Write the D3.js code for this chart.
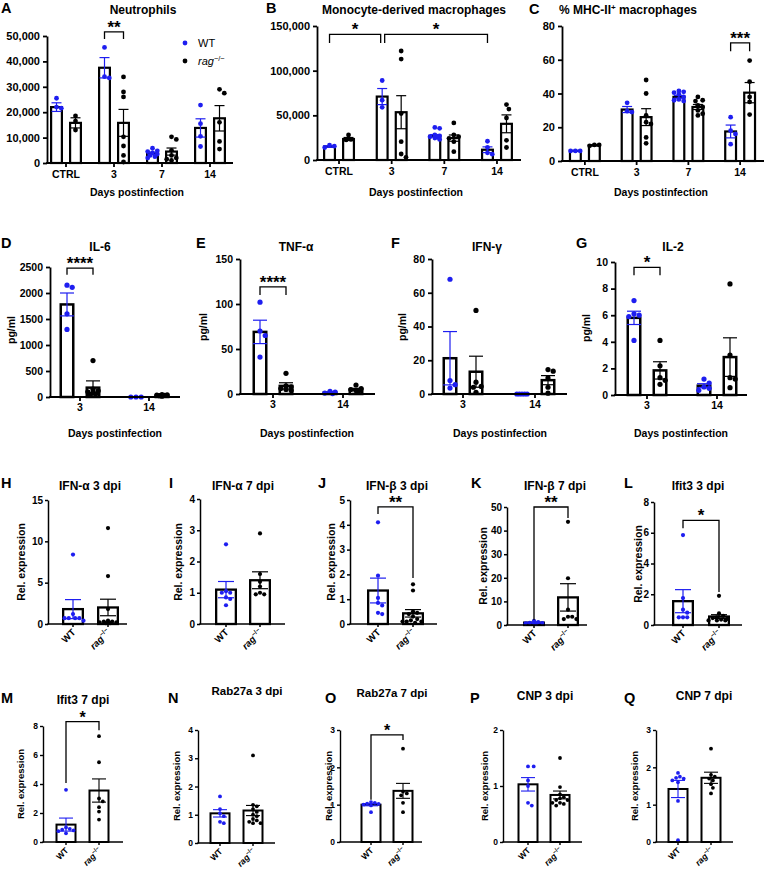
<!DOCTYPE html>
<html><head><meta charset="utf-8">
<script src="https://cdn.jsdelivr.net/npm/d3@7"></script>
<style>body{margin:0;background:#fff} svg{display:block}</style>
</head><body><svg id="c" width="765" height="869"></svg>
<script>
const SERIES = ["WT","rag"];
// ---------- A: Neutrophils ----------
const A_groups = ["CTRL","3","7","14"];
const A_ticks = [0,10000,20000,30000,40000,50000];
const A_wtPts = [[25500,22000,21600],[45500,34000,33500],[5800,4800,4500,4000,3500,3000,2500,2000],[22800,15500,10500,6500]];
const A_ragPts = [[18500,16500,13000],[33900,28000,26000,10300,6700,3000,400],[10300,9300,5000,3000,2000,1500,1000],[29000,27500,16000,8500,5500]];
const A_wtMean = [22000,37500,3800,13800];
const A_wtSem = [1700,4000,450,3600];
const A_ragMean = [15800,15800,4500,17600];
const A_ragSem = [2000,5300,1400,5000];
// ---------- B: Monocyte-derived macrophages ----------
const B_groups = ["CTRL","3","7","14"];
const B_ticks = [0,50000,100000,150000];
const B_wtPts = [[16500,15500,14000],[89000,67000,59000],[36500,35500,28000,27000,26000,25500,24500,23000],[21000,14000,8000,6500]];
const B_ragPts = [[28000,23000,22500],[122000,113000,52000,20500,6700,3000],[41500,28000,26000,24300,20500,9300],[62000,57000,47000,22000,14000]];
const B_wtMean = [15000,71000,27000,11500];
const B_wtSem = [800,9000,1500,3200];
const B_ragMean = [23500,53500,24500,40500];
const B_ragSem = [1700,18500,3500,10000];
// ---------- C: % MHC-II+ macrophages ----------
const C_groups = ["CTRL","3","7","14"];
const C_ticks = [0,20,40,60,80];
const C_wtPts = [[6,6,6],[34.5,29.5,29],[41.5,41,40.5,39.5,38,36.5,36,35.5],[26,18,16,10]];
const C_ragPts = [[9.5,9.5,9],[48,40,27,23,22,14,10.5],[38,36,35.5,33,32,30,28,27],[59.5,47,38,35,27.5]];
const C_wtMean = [6,30.5,38,17.5];
const C_wtSem = [0.1,1.8,0.8,3.8];
const C_ragMean = [9.3,26,32,40.5];
const C_ragSem = [0.3,5,1.5,6];
// ---------- D: IL-6 ----------
const D_groups = ["3","14"];
const D_ticks = [0,500,1000,1500,2000,2500];
const D_wtPts = [[2150,2110,1600,1300],[0,0,0]];
const D_ragPts = [[700,150,120,100,80,60,50],[45,40,35,30,25,15]];
const D_wtMean = [1780,0];
const D_wtSem = [220,0];
const D_ragMean = [180,30];
const D_ragSem = [130,5];
// ---------- E: TNF-α ----------
const E_groups = ["3","14"];
const E_ticks = [0,50,100,150];
const E_wtPts = [[102,70,65,41],[3,2,1,0.5]];
const E_ragPts = [[23,9,8,6,5,4],[10,6,5,4,3]];
const E_wtMean = [69,1.5];
const E_wtSem = [13,0.6];
const E_ragMean = [9,5];
const E_ragSem = [3.5,1.3];
// ---------- F: IFN-γ ----------
const F_groups = ["3","14"];
const F_ticks = [0,20,40,60,80];
const F_wtPts = [[68,8,5.5,3.5],[0,0,0,0,0]];
const F_ragPts = [[49.5,7,4.5,4,1],[14.5,13.5,9.5,4,0.5]];
const F_wtMean = [21.2,0];
const F_wtSem = [15.8,0];
const F_ragMean = [13.2,8.2];
const F_ragSem = [9.2,2.7];
// ---------- G: IL-2 ----------
const G_groups = ["3","14"];
const G_ticks = [0,2,4,6,8,10];
const G_wtPts = [[7.1,6.1,6.0,5.9,4.1],[1.2,0.9,0.6,0.5,0.35]];
const G_ragPts = [[4.1,2.2,1.3,1.1,0.8],[8.35,3.0,1.3,1.2,0.55]];
const G_wtMean = [5.8,0.7];
const G_wtSem = [0.5,0.15];
const G_ragMean = [1.85,2.85];
const G_ragSem = [0.65,1.45];
// ---------- H–Q: relative expression (WT vs rag-/-) ----------
const H_wt = [8.4,1.2,0.7,0.7,0.7,0.7,0.4];
const H_rag = [11.6,5.8,1.8,0.4,0.3,0.3,0.2,0.2,0.1,0.1,0.1];
const H_mean = [1.8,2.0], H_sem = [1.15,1.0], H_ticks = [0,5,10,15];
const I_wt = [2.55,1.05,1.0,1.0,0.85,0.8,0.6];
const I_rag = [2.9,1.6,1.35,1.2,1.0,0.95,0.95];
const I_mean = [1.1,1.4], I_sem = [0.26,0.27], I_ticks = [0,1,2,3,4];
const J_wt = [4.1,1.95,1.05,0.85,0.75,0.45,0.4];
const J_rag = [1.6,1.35,0.5,0.45,0.4,0.3,0.2,0.15,0.1,0.1,0.1,0.05];
const J_mean = [1.35,0.43], J_sem = [0.5,0.15], J_ticks = [0,1,2,3,4,5];
const K_wt = [1.8,1.2,0.9,0.8,0.7,0.7,0.6];
const K_rag = [43.7,19.8,6.5,3.5,3.5,2.5,2.5];
const K_mean = [1.0,11.7], K_sem = [0.15,5.8], K_ticks = [0,10,20,30,40,50];
const L_wt = [5.85,1.75,1.0,0.8,0.5,0.5,0.5];
const L_rag = [1.9,0.75,0.6,0.5,0.45,0.4,0.35,0.3,0.3,0.3];
const L_mean = [1.55,0.55], L_sem = [0.75,0.12], L_ticks = [0,2,4,6,8];
const M_wt = [3.6,1.0,0.9,0.85,0.8,0.75,0.6];
const M_rag = [7.3,5.5,3.0,2.8,2.4,2.1,1.55];
const M_mean = [1.2,3.55], M_sem = [0.45,0.8], M_ticks = [0,2,4,6,8];
const N_wt = [1.65,1.2,1.05,0.95,0.75,0.7];
const N_rag = [3.1,1.35,1.3,1.2,1.1,1.0,0.95,0.85,0.8,0.75,0.7,0.7];
const N_mean = [1.05,1.15], N_sem = [0.13,0.18], N_ticks = [0,1,2,3,4];
const O_wt = [1.07,1.05,1.03,1.02,1.0,0.98,0.8];
const O_rag = [2.5,1.35,1.3,1.25,1.05,0.8];
const O_mean = [1.0,1.37], O_sem = [0.03,0.2], O_ticks = [0,1,2,3];
const P_wt = [1.35,1.35,1.1,1.0,0.7,0.65];
const P_rag = [1.5,0.98,0.85,0.8,0.78,0.75,0.75,0.7,0.7,0.68,0.65];
const P_mean = [1.03,0.84], P_sem = [0.12,0.07], P_ticks = [0,1,2];
const Q_wt = [1.85,1.75,1.72,1.7,1.65,1.6,1.1,0.05];
const Q_rag = [2.5,1.8,1.75,1.7,1.65,1.55,1.45,1.3];
const Q_mean = [1.42,1.72], Q_sem = [0.23,0.15], Q_ticks = [0,1,2,3];

// ---------------- drawing ----------------
const FONT = "'Liberation Sans', Arial, Helvetica, sans-serif";
const BLUE = "#1e1ef0";
const COLOR = {WT: BLUE, rag: "#000"};
const svg = d3.select("#c").style("font-family", FONT);
svg.append("rect").attr("width",765).attr("height",869).attr("fill","#fff");

function ragText(sel, fs) {
  sel.append("tspan").attr("font-style","italic").text("rag");
  sel.append("tspan").attr("font-size", fs*0.68).attr("dy", -fs*0.4).text("−/−");
}
// deterministic scatter spreading (no randomness): place each point at the
// candidate offset within the bar that best avoids earlier points
function beeswarm(vals, y, cx, r, maxHalf) {
  const placed = [], out = new Array(vals.length);
  const order = vals.map((v,i)=>i).sort((a,b)=>vals[b]-vals[a]);
  const s = r, minD = 2*r;
  const cands = [0];
  for (let k = 1; k * s <= maxHalf; k++) { cands.push(k*s, -k*s); }
  order.forEach(i => {
    const py = y(vals[i]);
    let best = cx, bestD = -1;
    for (const off of cands) {
      const cand = cx + off;
      const d = placed.length ? Math.min(...placed.map(p => Math.hypot(p[0]-cand, p[1]-py))) : Infinity;
      if (d >= minD) { best = cand; bestD = d; break; }
      if (d > bestD + 0.5) { bestD = d; best = cand; }
    }
    placed.push([best, py]); out[i] = [best, py];
  });
  return out;
}

function drawPanel(c) {
  const g = svg.append("g");
  const y = d3.scaleLinear().domain([0, c.ymax]).range([c.yBot, c.yTop]);
  const groups = c.groups || ["all"];
  let xg, xs, cx;
  if (c.groups) {
    xg = d3.scaleBand().domain(groups).range(c.xr);
    xs = d3.scaleBand().domain(SERIES).range([-2*c.sub, 2*c.sub]);
    cx = (gk, s) => xg(gk) + xg.bandwidth()/2 + xs(s) + xs.bandwidth()/2;
  } else {
    xs = d3.scaleBand().domain(SERIES).range(c.xr);
    cx = (gk, s) => xs(s) + xs.bandwidth()/2;
  }
  groups.forEach((gk, gi) => {
    SERIES.forEach(s => {
      const m = c.mean[s][gi], e = c.sem[s][gi], x = cx(gk, s);
      g.append("rect").attr("x", x - c.bw/2 + c.bs/2).attr("y", y(m))
        .attr("width", c.bw - c.bs).attr("height", Math.max(0, c.yBot - y(m)))
        .attr("fill","#fff").attr("stroke","#000").attr("stroke-width", c.bs);
      const pts = beeswarm(c.pts[s][gi], y, x, c.r, c.bw/2 - 0.5);
      g.append("g").selectAll("circle").data(pts).join("circle")
        .attr("cx", d=>d[0]).attr("cy", d=>d[1]).attr("r", c.r).attr("fill", COLOR[s]);
      if (e > 0) {
        const lo = y(Math.max(0, m - e)), hi = y(m + e);
        const eg = g.append("g").attr("stroke", COLOR[s]).attr("stroke-width", c.ew);
        eg.append("line").attr("x1",x).attr("x2",x).attr("y1",lo).attr("y2",hi);
        eg.append("line").attr("x1",x-c.cap).attr("x2",x+c.cap).attr("y1",hi).attr("y2",hi);
        eg.append("line").attr("x1",x-c.cap).attr("x2",x+c.cap).attr("y1",lo).attr("y2",lo);
      }
    });
  });
  // y axis
  const ya = g.append("g").attr("transform", `translate(${c.x0},0)`)
    .call(d3.axisLeft(y).tickValues(c.ticks).tickSize(c.tk).tickSizeOuter(0).tickPadding(c.tp)
      .tickFormat(c.fmt || (d => d)));
  ya.select(".domain").attr("stroke-width", c.aw);
  ya.selectAll(".tick line").attr("stroke-width", c.aw);
  ya.selectAll(".tick text").attr("font-size", c.tf).attr("font-weight","bold").attr("fill","#000").attr("font-family", FONT);
  // x axis
  g.append("line").attr("x1", c.x0 - c.aw/2).attr("x2", c.x1).attr("y1", c.yBot).attr("y2", c.yBot)
    .attr("stroke","#000").attr("stroke-width", c.aw);
  if (c.groups) {
    const xa = g.append("g").attr("transform", `translate(0,${c.yBot})`)
      .call(d3.axisBottom(xg).tickSize(c.tk).tickSizeOuter(0).tickPadding(c.xtp));
    xa.select(".domain").remove();
    xa.selectAll(".tick line").attr("stroke-width", c.aw);
    xa.selectAll(".tick text").attr("font-size", c.xtf).attr("font-weight","bold").attr("fill","#000").attr("font-family", FONT);
  } else {
    const xa = g.append("g").attr("transform", `translate(0,${c.yBot})`)
      .call(d3.axisBottom(xs).tickSize(c.tk).tickSizeOuter(0).tickFormat(""));
    xa.select(".domain").remove();
    xa.selectAll(".tick line").attr("stroke-width", c.aw);
    SERIES.forEach(s => {
      const t = g.append("text").attr("text-anchor","end").attr("font-size", c.xtf).attr("font-weight","bold")
        .attr("transform", `translate(${cx("all", s) + 3},${c.yBot + c.tk + 6}) rotate(-45)`);
      if (s === "WT") t.text("WT"); else ragText(t, c.xtf);
    });
  }
  // significance brackets
  (c.brackets || []).forEach(b => {
    const x1 = cx(b.from[0], b.from[1]) + (b.dx1||0), x2 = cx(b.to[0], b.to[1]) + (b.dx2||0);
    g.append("path").attr("d", `M${x1},${y(b.l)}V${y(b.top)}H${x2}V${y(b.r)}`)
      .attr("fill","none").attr("stroke","#000").attr("stroke-width", c.brw || 1.3);
    g.append("text").attr("x", (x1+x2)/2).attr("y", y(b.top) + (c.starDy||1)).attr("text-anchor","middle")
      .attr("font-size", c.starFs || 17).attr("font-weight","bold").text(b.label);
  });
  // texts
  g.append("text").attr("x", c.letter[0]).attr("y", c.letter[1]).attr("font-size", 14.5).attr("font-weight","bold").text(c.id);
  const tt = g.append("text").attr("x", c.title[0]).attr("y", c.title[1]).attr("text-anchor","middle")
    .attr("font-size", c.titleFs || 12).attr("font-weight","bold");
  if (Array.isArray(c.titleText)) {
    c.titleText.forEach(p => tt.append("tspan").attr("font-size", p[1] ? 8 : null).attr("dy", p[2]).text(p[0]));
  } else tt.text(c.titleText);
  if (c.xtitle) g.append("text").attr("x", c.xtitle[0]).attr("y", c.xtitle[1]).attr("text-anchor","middle")
    .attr("font-size", 10.5).attr("font-weight","bold").text("Days postinfection");
  if (c.ytitle) g.append("text").attr("transform", `translate(${c.ytitle[0]},${c.ytitle[1]}) rotate(-90)`)
    .attr("text-anchor","middle").attr("font-size", c.ytf || 10).attr("font-weight","bold").text(c.ytitleText);
  return {y, cx};
}

const row1 = {tk:4, tp:3, aw:1.8, bs:2.2, bw:13, r:2.4, cap:5, ew:1.2, tf:11, xtf:10.5, xtp:4, sub:9.5, fmt:d3.format(",")};
const row2 = {tk:4, tp:3, aw:1.8, bs:2.5, bw:15, r:2.6, cap:7, ew:1.2, tf:10.5, xtf:10.5, xtp:3, sub:13, ytitleText:"pg/ml", ytf:10.5};
const row3 = {tk:3, tp:2, aw:1.5, bs:2.3, bw:22, r:2.1, cap:8, ew:1.2, tf:10, xtf:9.5, ytitleText:"Rel. expression", ytf:10.5, starFs:17};
const row4 = {tk:3, tp:2, aw:1.4, bs:2, bw:21, r:1.9, cap:7, ew:1.1, tf:8.5, xtf:8.5, ytitleText:"Rel. expression", ytf:9.5, starFs:16};

drawPanel({...row1, id:"A", groups:A_groups, ticks:A_ticks, ymax:50000, x0:47, x1:233, yTop:36, yBot:163, xr:[42,234],
  pts:{WT:A_wtPts, rag:A_ragPts}, mean:{WT:A_wtMean, rag:A_ragMean}, sem:{WT:A_wtSem, rag:A_ragSem},
  letter:[1,13], title:[143,14], titleText:"Neutrophils", xtitle:[137,196],
  brackets:[{from:["3","WT"], to:["3","rag"], top:51600, l:48800, r:48800, label:"**"}]});
drawPanel({...row1, id:"B", groups:B_groups, ticks:B_ticks, ymax:150000, x0:317, x1:521, yTop:26, yBot:160, xr:[312.7,523.3],
  pts:{WT:B_wtPts, rag:B_ragPts}, mean:{WT:B_wtMean, rag:B_ragMean}, sem:{WT:B_wtSem, rag:B_ragSem},
  letter:[266,13], title:[414,14], titleText:"Monocyte-derived macrophages", xtitle:[416,196],
  brackets:[{from:["CTRL","WT"], to:["3","WT"], dx2:-1.5, top:140700, l:131000, r:131000, label:"*"},
            {from:["3","WT"], to:["14","WT"], dx1:2.5, top:140700, l:131000, r:131000, label:"*"}]});
drawPanel({...row1, id:"C", groups:C_groups, ticks:C_ticks, ymax:80, x0:562, x1:764, yTop:26, yBot:161, xr:[559,766],
  fmt:d=>d, pts:{WT:C_wtPts, rag:C_ragPts}, mean:{WT:C_wtMean, rag:C_ragMean}, sem:{WT:C_wtSem, rag:C_ragSem},
  letter:[529,14], title:[628,14], titleText:[["% MHC-II",0],["+",1,-4],[" macrophages",0,4]], xtitle:[661,196],
  brackets:[{from:["14","WT"], to:["14","rag"], top:70, l:65, r:65, label:"***"}]});

// legend in A
const lg = svg.append("g").attr("font-size", 11);
lg.append("circle").attr("cx",185).attr("cy",43).attr("r",2.4).attr("fill",BLUE);
lg.append("text").attr("x",198).attr("y",47).text("WT");
lg.append("circle").attr("cx",185).attr("cy",61).attr("r",2.4).attr("fill","#000");
ragText(lg.append("text").attr("x",198).attr("y",65), 11);

drawPanel({...row2, id:"D", groups:D_groups, ticks:D_ticks, ymax:2500, x0:50, x1:180, yTop:267, yBot:397, xr:[45.5,183.5],
  pts:{WT:D_wtPts, rag:D_ragPts}, mean:{WT:D_wtMean, rag:D_ragMean}, sem:{WT:D_wtSem, rag:D_ragSem},
  letter:[1,248], title:[100,251], titleText:"IL-6", xtitle:[115,437], ytitle:[15,330],
  brackets:[{from:["3","WT"], to:["3","rag"], top:2480, l:2350, r:2350, label:"****"}]});
drawPanel({...row2, id:"E", groups:E_groups, ticks:E_ticks, ymax:150, x0:240, x1:375, yTop:259, yBot:394, xr:[238,378],
  pts:{WT:E_wtPts, rag:E_ragPts}, mean:{WT:E_wtMean, rag:E_ragMean}, sem:{WT:E_wtSem, rag:E_ragSem},
  letter:[196,248], title:[296,251], titleText:"TNF-α", xtitle:[307,437], ytitle:[207,327],
  brackets:[{from:["3","WT"], to:["3","rag"], top:119, l:110, r:110, label:"****"}]});
drawPanel({...row2, id:"F", groups:F_groups, ticks:F_ticks, ymax:80, x0:432, x1:567, yTop:259, yBot:394, xr:[427,571],
  pts:{WT:F_wtPts, rag:F_ragPts}, mean:{WT:F_wtMean, rag:F_ragMean}, sem:{WT:F_wtSem, rag:F_ragSem},
  letter:[391,248], title:[487,251], titleText:"IFN-γ", xtitle:[500,437], ytitle:[406,327]});
drawPanel({...row2, id:"G", groups:G_groups, ticks:G_ticks, ymax:10, x0:615, x1:747, yTop:262, yBot:395, xr:[612,752],
  pts:{WT:G_wtPts, rag:G_ragPts}, mean:{WT:G_wtMean, rag:G_ragMean}, sem:{WT:G_wtSem, rag:G_ragSem},
  letter:[576,248], title:[673,251], titleText:"IL-2", xtitle:[681,437], ytitle:[590,328],
  brackets:[{from:["3","WT"], to:["3","rag"], top:9.6, l:9.0, r:9.0, label:"*"}]});

function single(base, o) {
  return drawPanel({...base, ...o,
    pts:{WT:[o.wt], rag:[o.rag]}, mean:{WT:[o.m[0]], rag:[o.m[1]]}, sem:{WT:[o.s[0]], rag:[o.s[1]]}});
}
single(row3, {id:"H", wt:H_wt, rag:H_rag, m:H_mean, s:H_sem, ticks:H_ticks, ymax:15, x0:48, x1:127, yTop:500, yBot:624, xr:[55.5,125.5],
  letter:[1,488], title:[90,490], titleText:"IFN-α 3 dpi", ytitle:[25,562]});
single(row3, {id:"I", wt:I_wt, rag:I_rag, m:I_mean, s:I_sem, ticks:I_ticks, ymax:4, x0:200, x1:285, yTop:499, yBot:624, xr:[209,277],
  letter:[169,488], title:[243,490], titleText:"IFN-α 7 dpi", ytitle:[182,562]});
single(row3, {id:"J", wt:J_wt, rag:J_rag, m:J_mean, s:J_sem, ticks:J_ticks, ymax:5, x0:350, x1:437, yTop:500, yBot:624, xr:[360.5,430.5],
  letter:[318,488], title:[397,490], titleText:"IFN-β 3 dpi", ytitle:[335,562],
  brackets:[{from:["all","WT"], to:["all","rag"], top:4.72, l:4.44, r:1.85, label:"**"}]});
single(row3, {id:"K", wt:K_wt, rag:K_rag, m:K_mean, s:K_sem, ticks:K_ticks, ymax:50, x0:507, x1:587, yTop:507, yBot:625, xr:[517,585],
  letter:[471,488], title:[555,490], titleText:"IFN-β 7 dpi", ytitle:[487,566],
  brackets:[{from:["all","WT"], to:["all","rag"], top:50, l:2.1, r:45.3, label:"**"}]});
single(row3, {id:"L", wt:L_wt, rag:L_rag, m:L_mean, s:L_sem, ticks:L_ticks, ymax:8, x0:654, x1:742, yTop:502, yBot:625, xr:[665,737],
  letter:[624,488], title:[698,490], titleText:"Ifit3 3 dpi", ytitle:[642,564],
  brackets:[{from:["all","WT"], to:["all","rag"], top:6.8, l:6.3, r:2.15, label:"*"}]});

single(row4, {id:"M", wt:M_wt, rag:M_rag, m:M_mean, s:M_sem, ticks:M_ticks, ymax:8, x0:43, x1:123, yTop:726, yBot:842, xr:[49.5,115.5],
  letter:[1,703], title:[83,704], titleText:"Ifit3 7 dpi", ytitle:[24,784],
  brackets:[{from:["all","WT"], to:["all","rag"], top:8.3, l:4.07, r:7.7, label:"*"}]});
single(row4, {id:"N", wt:N_wt, rag:N_rag, m:N_mean, s:N_sem, ticks:N_ticks, ymax:4, x0:198, x1:275, yTop:730, yBot:843, xr:[203.5,269.5],
  letter:[168,703], title:[247,695], titleText:"Rab27a 3 dpi", titleFs:11.5, ytitle:[180,786]});
single(row4, {id:"O", wt:O_wt, rag:O_rag, m:O_mean, s:O_sem, ticks:O_ticks, ymax:3, x0:340, x1:422, yTop:730, yBot:842, xr:[355,419],
  letter:[325,703], title:[392,697], titleText:"Rab27a 7 dpi", titleFs:11.5, ytitle:[332,786],
  brackets:[{from:["all","WT"], to:["all","rag"], top:2.87, l:1.13, r:2.73, label:"*"}]});
single(row4, {id:"P", wt:P_wt, rag:P_rag, m:P_mean, s:P_sem, ticks:P_ticks, ymax:2, x0:503, x1:582, yTop:730, yBot:842, xr:[512,576],
  letter:[470,703], title:[545,700], titleText:"CNP 3 dpi", ytitle:[488,786]});
single(row4, {id:"Q", wt:Q_wt, rag:Q_rag, m:Q_mean, s:Q_sem, ticks:Q_ticks, ymax:3, x0:656, x1:733, yTop:730, yBot:842, xr:[661.5,727.5],
  letter:[624,703], title:[704,700], titleText:"CNP 7 dpi", ytitle:[638,786]});
</script></body></html>
